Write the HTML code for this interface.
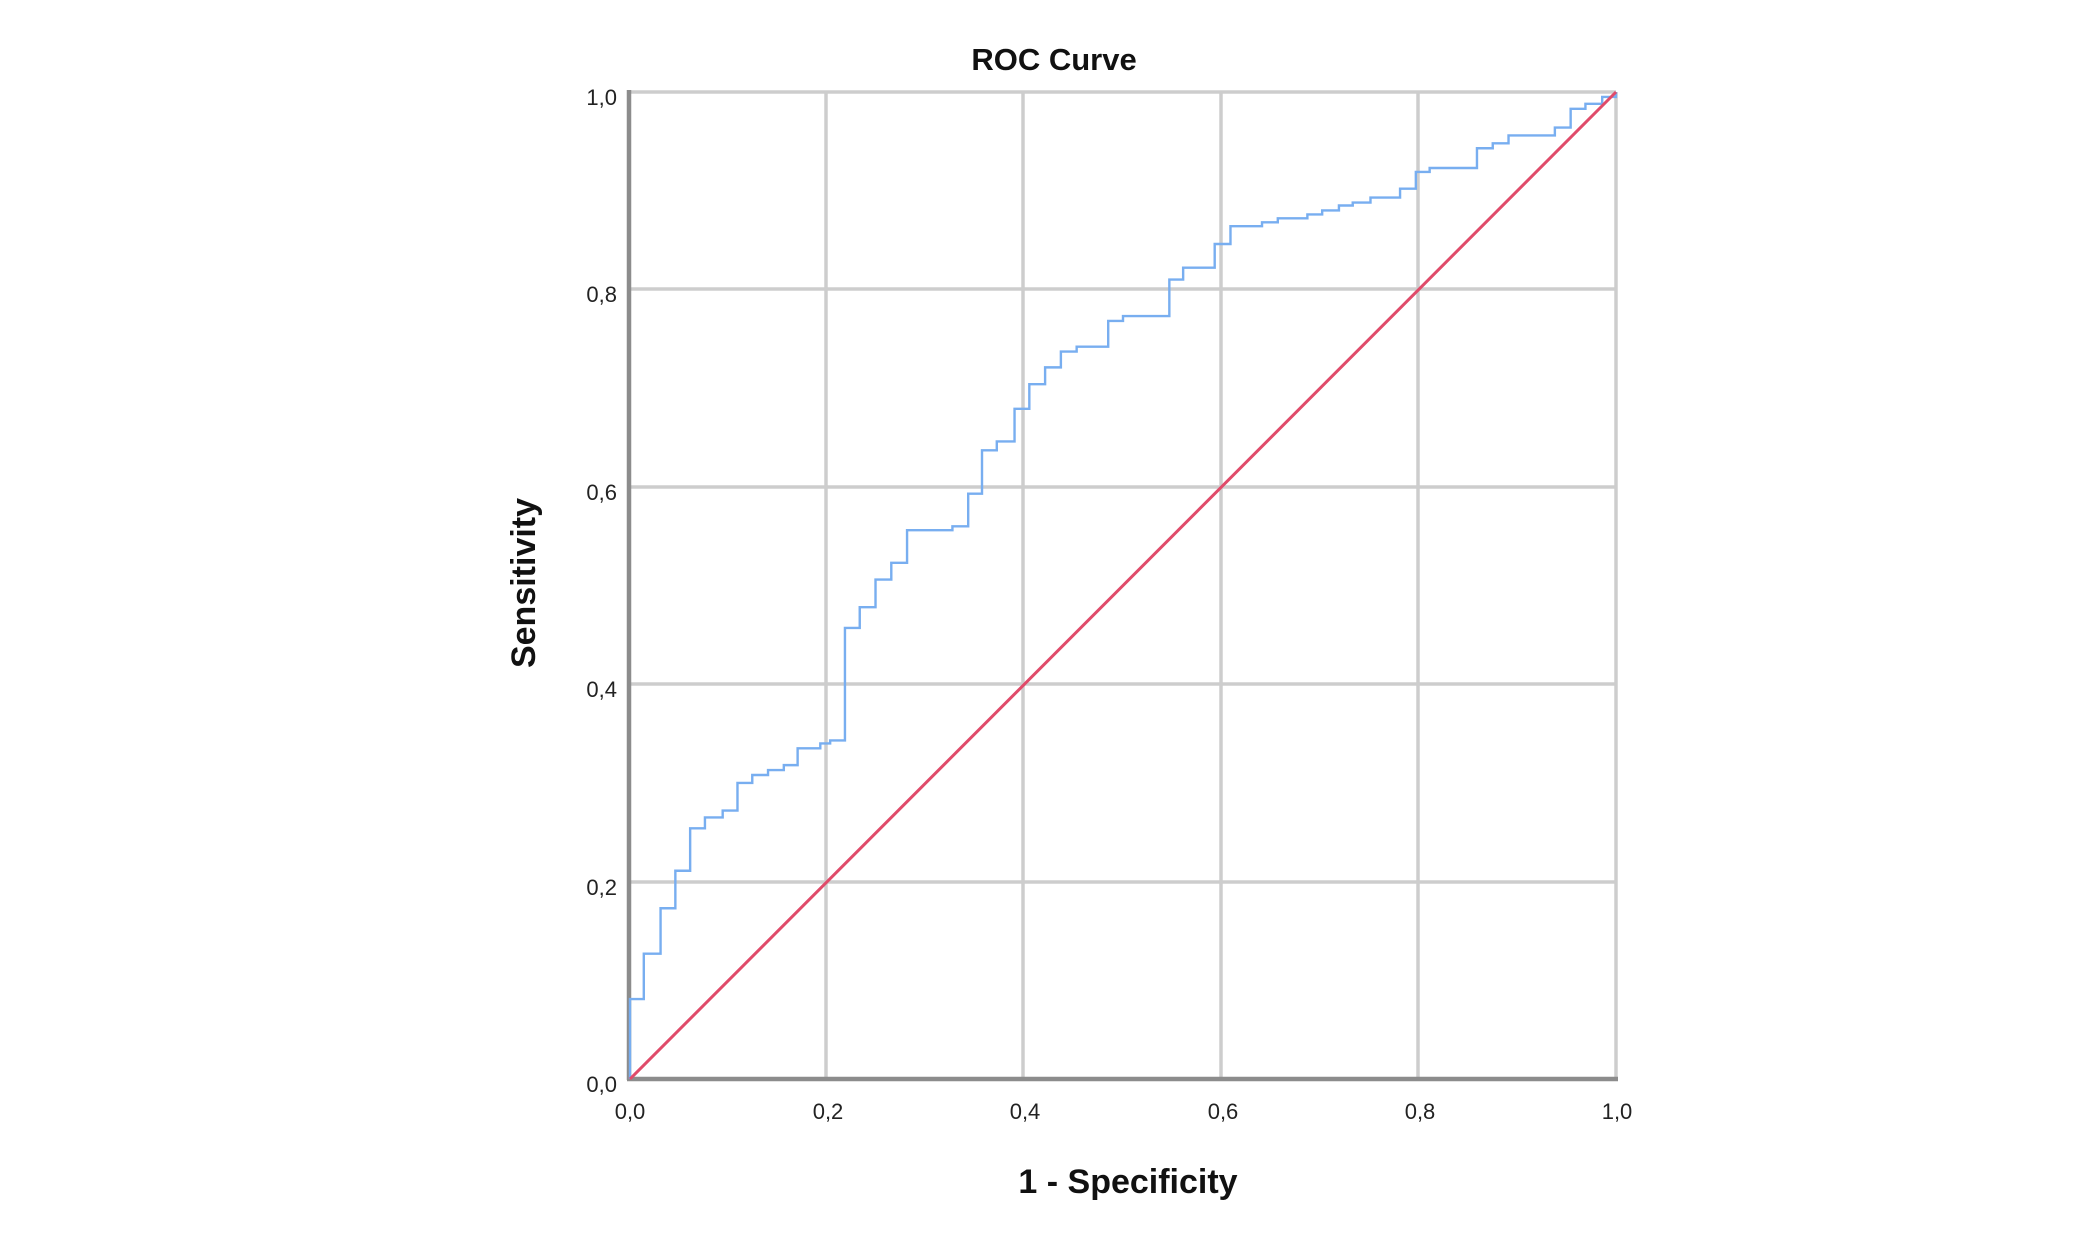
<!DOCTYPE html>
<html><head><meta charset="utf-8"><style>
html,body{margin:0;padding:0;background:#fff;}
svg{display:block;}
text{font-family:"Liberation Sans",Arial,sans-serif;}
</style></head><body>
<svg width="2100" height="1239" viewBox="0 0 2100 1239" xmlns="http://www.w3.org/2000/svg">
<rect width="2100" height="1239" fill="#fff"/>
<g stroke="#cdcdcd" stroke-width="3.5">
<line x1="826" y1="92" x2="826" y2="1079"/>
<line x1="1023" y1="92" x2="1023" y2="1079"/>
<line x1="1221" y1="92" x2="1221" y2="1079"/>
<line x1="1418" y1="92" x2="1418" y2="1079"/>
<line x1="1616" y1="92" x2="1616" y2="1079"/>
<line x1="630" y1="92" x2="1616" y2="92"/>
<line x1="630" y1="289" x2="1616" y2="289"/>
<line x1="630" y1="487" x2="1616" y2="487"/>
<line x1="630" y1="684" x2="1616" y2="684"/>
<line x1="630" y1="882" x2="1616" y2="882"/>
</g>
<g stroke="#8c8c8c" stroke-width="4.5">
<line x1="629" y1="90" x2="629" y2="1080"/>
<line x1="627" y1="1079" x2="1618" y2="1079"/>
</g>
<g transform="translate(630,1079) scale(986,-987)">
<polyline fill="none" stroke="#78aef0" stroke-width="2.4" vector-effect="non-scaling-stroke" points="0,0 0,0.081 0.014,0.081 0.014,0.127 0.031,0.127 0.031,0.173 0.046,0.173 0.046,0.211 0.061,0.211 0.061,0.254 0.076,0.254 0.076,0.265 0.094,0.265 0.094,0.272 0.109,0.272 0.109,0.300 0.124,0.300 0.124,0.308 0.140,0.308 0.140,0.313 0.156,0.313 0.156,0.318 0.170,0.318 0.170,0.335 0.193,0.335 0.193,0.340 0.203,0.340 0.203,0.343 0.218,0.343 0.218,0.457 0.233,0.457 0.233,0.478 0.249,0.478 0.249,0.506 0.265,0.506 0.265,0.523 0.281,0.523 0.281,0.556 0.327,0.556 0.327,0.560 0.343,0.560 0.343,0.593 0.357,0.593 0.357,0.637 0.372,0.637 0.372,0.646 0.390,0.646 0.390,0.679 0.405,0.679 0.405,0.704 0.421,0.704 0.421,0.721 0.437,0.721 0.437,0.737 0.453,0.737 0.453,0.742 0.485,0.742 0.485,0.768 0.500,0.768 0.500,0.773 0.547,0.773 0.547,0.810 0.561,0.810 0.561,0.822 0.593,0.822 0.593,0.846 0.609,0.846 0.609,0.864 0.641,0.864 0.641,0.868 0.657,0.868 0.657,0.872 0.687,0.872 0.687,0.876 0.702,0.876 0.702,0.880 0.719,0.880 0.719,0.885 0.733,0.885 0.733,0.888 0.751,0.888 0.751,0.893 0.781,0.893 0.781,0.902 0.797,0.902 0.797,0.919 0.811,0.919 0.811,0.923 0.859,0.923 0.859,0.943 0.875,0.943 0.875,0.948 0.891,0.948 0.891,0.956 0.938,0.956 0.938,0.964 0.954,0.964 0.954,0.983 0.969,0.983 0.969,0.988 0.986,0.988 0.986,0.995 1,0.995 1,1"/>
<line x1="0" y1="0" x2="1" y2="1" stroke="#e04b6a" stroke-width="3" vector-effect="non-scaling-stroke"/>
</g>
<g font-size="22" fill="#222" text-anchor="end">
<text x="617" y="105">1,0</text>
<text x="617" y="302">0,8</text>
<text x="617" y="500">0,6</text>
<text x="617" y="697">0,4</text>
<text x="617" y="895">0,2</text>
<text x="617" y="1092">0,0</text>
</g>
<g font-size="22" fill="#222" text-anchor="middle">
<text x="630" y="1119">0,0</text>
<text x="828" y="1119">0,2</text>
<text x="1025" y="1119">0,4</text>
<text x="1223" y="1119">0,6</text>
<text x="1420" y="1119">0,8</text>
<text x="1617" y="1119">1,0</text>
</g>
<text x="1054" y="70" font-size="31" font-weight="bold" text-anchor="middle" fill="#111">ROC Curve</text>
<text x="1128" y="1193" font-size="34" font-weight="bold" text-anchor="middle" fill="#111">1 - Specificity</text>
<text transform="translate(535,583) rotate(-90)" font-size="34" font-weight="bold" text-anchor="middle" fill="#111">Sensitivity</text>
</svg>
</body></html>
